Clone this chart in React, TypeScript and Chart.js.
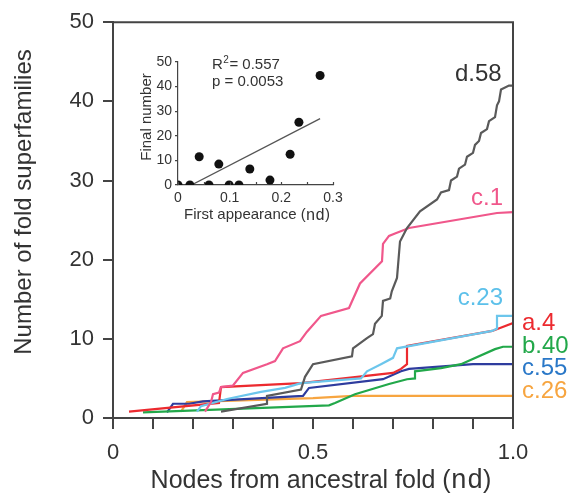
import React, { useEffect, useRef } from 'react';
import { Chart, registerables } from 'chart.js';

Chart.register(...registerables);

const FONT = "'Liberation Sans', Arial, Helvetica, sans-serif";
const MONO = "'Liberation Mono', 'Courier New', monospace";
const AXIS = '#444444';
const TEXT = '#333333';

// ---- main chart data ----
const seriesNames = ['d.58', 'c.1', 'c.23', 'a.4', 'b.40', 'c.55', 'c.26'];
const lineColors = ['#5a5a5a', '#f0578b', '#6cc6ec', '#ec2a2f', '#22a84a', '#2e3c9e', '#f7a540'];
const labelColors = ['#333333', '#f0578b', '#5cc0ea', '#ec2a2f', '#22a84a', '#2a78c8', '#f7a540'];

const d58X = [0.27, 0.385, 0.385, 0.47, 0.48, 0.5, 0.5975, 0.6, 0.635, 0.65, 0.655, 0.672, 0.675, 0.693, 0.697, 0.71, 0.7175, 0.735, 0.7675, 0.81, 0.82, 0.84, 0.845, 0.86, 0.865, 0.88, 0.885, 0.9, 0.905, 0.915, 0.92, 0.935, 0.94, 0.955, 0.96, 0.965, 0.97, 0.99, 1.0];
const d58Y = [0.8, 1.8, 2.8, 3.6, 5.2, 6.8, 7.8, 8.8, 10.1, 10.6, 11.9, 12.9, 14.8, 15.1, 16, 17.7, 22.3, 24, 26.1, 27.6, 28.5, 28.8, 30, 30.5, 31.5, 32, 33, 33.5, 34.5, 35, 36, 36.5, 37.5, 38, 39.5, 40, 41.5, 42, 42];

const c1X = [0.23, 0.245, 0.25, 0.265, 0.27, 0.3, 0.325, 0.385, 0.405, 0.425, 0.4675, 0.485, 0.52, 0.59, 0.6175, 0.6725, 0.675, 0.69, 0.705, 0.74, 0.96, 1.0];
const c1Y = [0.8, 2, 3, 3.2, 3.9, 4.1, 5.7, 6.8, 7.2, 8.8, 9.7, 10.9, 12.9, 13.9, 17, 19.8, 22, 23, 23.3, 24, 25.9, 26];

const c23X = [0.21, 0.22, 0.285, 0.37, 0.43, 0.47, 0.54, 0.62, 0.635, 0.67, 0.7, 0.71, 0.948, 0.96, 0.96, 1.0];
const c23Y = [0.8, 1.5, 2.4, 3.3, 3.8, 4.4, 4.7, 5.0, 5.9, 6.8, 7.6, 8.8, 11.0, 11.3, 12.9, 12.9];

const a4X = [0.04, 0.265, 0.27, 0.47, 0.7, 0.72, 0.735, 0.735, 0.948, 1.0];
const a4Y = [0.8, 1.9, 3.9, 4.4, 5.7, 6.2, 6.8, 9.1, 11.0, 12];

const b40X = [0.075, 0.54, 0.555, 0.605, 0.69, 0.735, 0.755, 0.755, 0.82, 0.87, 0.955, 0.975, 1.0];
const b40Y = [0.7, 1.6, 1.9, 3.0, 4.3, 4.9, 5.0, 5.9, 6.3, 6.8, 8.7, 9.0, 9.0];

const c55X = [0.135, 0.15, 0.19, 0.225, 0.475, 0.49, 0.675, 0.72, 0.74, 0.9, 1.0];
const c55Y = [0.7, 1.8, 1.8, 2.1, 2.8, 3.8, 4.9, 5.9, 6.2, 6.8, 6.8];

const c26X = [0.17, 0.185, 0.5, 0.6, 1.0];
const c26Y = [0.8, 2.0, 2.5, 2.8, 2.8];

const seriesX = [d58X, c1X, c23X, a4X, b40X, c55X, c26X];
const seriesY = [d58Y, c1Y, c23Y, a4Y, b40Y, c55Y, c26Y];

// label anchors (data units) for the series names
const labelAtX = [0.855, 0.975, 0.975, 1.0, 1.0, 1.0, 1.0];
const labelAtY = [43.4, 27.7, 15.1, 12, 9.1, 6.3, 3.4];

const xTickLabels = ['0', '0.5', '1.0'];
const xTickValues = [0, 0.5, 1.0];
const yTickStep = 10;

// ---- inset data ----
const insetX = [0, 0.023, 0.041, 0.06, 0.079, 0.099, 0.118, 0.139, 0.178, 0.217, 0.234, 0.275];
const insetY = [0, 0, 11.5, 0, 8.5, 0, 0, 6.5, 2, 12.5, 25.5, 44.5];
const fitX = [0.026, 0.275];
const fitY = [0, 27];
const insetXTicks = ['0', '0.1', '0.2', '0.3'];
const rSquared = '0.557';
const pValue = '0.0053';

const pts = (xs: number[], ys: number[]) => xs.map((x, i) => ({ x, y: ys[i] }));

const mainPlugin = {
  id: 'mainDecor',
  afterDraw(chart: any) {
    const { ctx, chartArea: a, scales } = chart;
    ctx.save();
    ctx.strokeStyle = AXIS;
    ctx.lineWidth = 2;
    ctx.beginPath();
    ctx.moveTo(a.left - 1, a.top);
    ctx.lineTo(a.right, a.top);
    ctx.lineTo(a.right, a.bottom);
    ctx.stroke();

    ctx.fillStyle = TEXT;
    // y title
    ctx.save();
    ctx.translate(24, 202);
    ctx.rotate(-Math.PI / 2);
    ctx.font = `24px ${FONT}`;
    ctx.textAlign = 'center';
    ctx.textBaseline = 'middle';
    ctx.fillText('Number of fold superfamilies', 0, 0);
    ctx.restore();

    // x title (mixed fonts)
    const p1 = 'Nodes from ancestral fold (';
    const p2 = 'nd';
    const p3 = ')';
    ctx.textBaseline = 'alphabetic';
    ctx.textAlign = 'left';
    ctx.font = `25px ${FONT}`;
    const w1 = ctx.measureText(p1).width;
    const w3 = ctx.measureText(p3).width;
    ctx.font = `27px ${MONO}`;
    const w2 = ctx.measureText(p2).width;
    const total = w1 + w2 + w3;
    const x0 = 321 - total / 2;
    const by = 488;
    ctx.font = `25px ${FONT}`;
    ctx.fillText(p1, x0, by);
    ctx.font = `27px ${MONO}`;
    ctx.fillText(p2, x0 + w1, by);
    ctx.font = `25px ${FONT}`;
    ctx.fillText(p3, x0 + w1 + w2, by);

    // series labels
    ctx.font = `24px ${FONT}`;
    ctx.textBaseline = 'middle';
    seriesNames.forEach((n, i) => {
      ctx.fillStyle = labelColors[i];
      const px = scales.x.getPixelForValue(labelAtX[i]);
      const py = scales.y.getPixelForValue(labelAtY[i]);
      if (labelAtX[i] >= 1.0) {
        ctx.textAlign = 'left';
        ctx.fillText(n, px + 9, py);
      } else {
        ctx.textAlign = i === 0 ? 'left' : 'right';
        ctx.fillText(n, px, py);
      }
    });
    ctx.restore();
  },
};

const insetPlugin = {
  id: 'insetDecor',
  afterDraw(chart: any) {
    const { ctx, chartArea: a, scales } = chart;
    ctx.save();
    ctx.strokeStyle = AXIS;
    ctx.lineWidth = 1.2;
    for (let v = 0; v <= 0.3001; v += 0.05) {
      const px = Math.round(scales.x.getPixelForValue(v)) + 0.5;
      ctx.beginPath();
      ctx.moveTo(px, a.bottom);
      ctx.lineTo(px, a.bottom - 3);
      ctx.stroke();
    }
    ctx.fillStyle = TEXT;
    // y title
    ctx.save();
    ctx.translate(27, 67);
    ctx.rotate(-Math.PI / 2);
    ctx.font = `15px ${FONT}`;
    ctx.textAlign = 'center';
    ctx.textBaseline = 'middle';
    ctx.fillText('Final number', 0, 0);
    ctx.restore();
    // x title
    const p1 = 'First appearance (';
    const p2 = 'nd';
    const p3 = ')';
    ctx.textBaseline = 'middle';
    ctx.textAlign = 'left';
    ctx.font = `15px ${FONT}`;
    const w1 = ctx.measureText(p1).width;
    const w3 = ctx.measureText(p3).width;
    ctx.font = `16px ${MONO}`;
    const w2 = ctx.measureText(p2).width;
    const x0 = 137 - (w1 + w2 + w3) / 2;
    const cy = 165;
    ctx.font = `15px ${FONT}`;
    ctx.fillText(p1, x0, cy);
    ctx.font = `16px ${MONO}`;
    ctx.fillText(p2, x0 + w1, cy + 1);
    ctx.font = `15px ${FONT}`;
    ctx.fillText(p3, x0 + w1 + w2, cy);

    // stats text
    ctx.font = `15px ${FONT}`;
    const rx = 92;
    ctx.fillText('R', rx, 15);
    const wr = ctx.measureText('R').width;
    ctx.font = `10px ${FONT}`;
    ctx.fillText('2', rx + wr + 0.5, 10);
    const w2s = ctx.measureText('2').width;
    ctx.font = `15px ${FONT}`;
    ctx.fillText('= ' + rSquared, rx + wr + w2s + 1, 15);
    ctx.fillText('p = ' + pValue, rx, 32);
    ctx.restore();
  },
};

export default function App() {
  const mainRef = useRef<HTMLCanvasElement>(null);
  const insetRef = useRef<HTMLCanvasElement>(null);

  useEffect(() => {
    const datasets = seriesNames.map((n, i) => ({
      label: n,
      data: pts(seriesX[i], seriesY[i]),
      borderColor: lineColors[i],
      backgroundColor: lineColors[i],
      borderWidth: 2.2,
      pointRadius: 0,
      tension: 0,
      fill: false,
    }));
    const main = new Chart(mainRef.current!, {
      type: 'line',
      data: { datasets },
      options: {
        animation: false,
        responsive: false,
        events: [],
        layout: { padding: { top: 21, right: 60, left: 0, bottom: 0 } },
        plugins: { legend: { display: false }, tooltip: { enabled: false } },
        scales: {
          x: {
            type: 'linear',
            min: 0,
            max: 1,
            afterFit: (s: any) => { s.height = 75; },
            ticks: {
              stepSize: 0.1,
              autoSkip: false,
              maxRotation: 0,
              padding: 11,
              color: TEXT,
              font: { family: FONT, size: 22 },
              callback: (v: any) => {
                const k = xTickValues.findIndex((t) => Math.abs(t - Number(v)) < 1e-6);
                return k >= 0 ? xTickLabels[k] : '';
              },
            },
            grid: { drawOnChartArea: false, tickLength: 11, color: AXIS, lineWidth: 2 },
            border: { color: AXIS, width: 2 },
          },
          y: {
            type: 'linear',
            min: 0,
            max: 50,
            afterFit: (s: any) => { s.width = 113; },
            ticks: {
              stepSize: yTickStep,
              padding: 9,
              color: TEXT,
              font: { family: FONT, size: 22 },
            },
            grid: { drawOnChartArea: false, tickLength: 10, color: AXIS, lineWidth: 2 },
            border: { color: AXIS, width: 2 },
          },
        },
      },
      plugins: [mainPlugin],
    });

    const inset = new Chart(insetRef.current!, {
      type: 'scatter',
      data: {
        datasets: [
          {
            data: pts(insetX, insetY),
            pointRadius: 4.5,
            backgroundColor: '#111111',
            borderColor: '#111111',
            borderWidth: 0,
          },
          {
            type: 'line',
            data: pts(fitX, fitY),
            showLine: true,
            pointRadius: 0,
            borderColor: '#555555',
            borderWidth: 1.3,
          } as any,
        ],
      },
      options: {
        animation: false,
        responsive: false,
        events: [],
        layout: { padding: { top: 12, right: 27, left: 0, bottom: 0 } },
        plugins: { legend: { display: false }, tooltip: { enabled: false } },
        scales: {
          x: {
            type: 'linear',
            min: 0,
            max: 0.3,
            afterFit: (s: any) => { s.height = 40; },
            ticks: {
              stepSize: 0.1,
              padding: 5,
              color: TEXT,
              font: { family: FONT, size: 14 },
              callback: (v: any) => {
                const k = Math.round(Number(v) * 10);
                return insetXTicks[k] ?? '';
              },
            },
            grid: { display: false, drawTicks: false },
            border: { color: AXIS, width: 1.2 },
          },
          y: {
            type: 'linear',
            min: 0,
            max: 50,
            afterFit: (s: any) => { s.width = 58; },
            ticks: {
              stepSize: 10,
              padding: 3,
              color: TEXT,
              font: { family: FONT, size: 14 },
            },
            grid: { drawOnChartArea: false, tickLength: 3, color: AXIS, lineWidth: 1.2 },
            border: { color: AXIS, width: 1.2 },
          },
        },
      },
      plugins: [insetPlugin],
    });

    return () => {
      main.destroy();
      inset.destroy();
    };
  }, []);

  return (
    <div style={{ position: 'fixed', left: 0, top: 0, width: 573, height: 493, background: '#ffffff' }}>
      <canvas ref={mainRef} width={573} height={493} style={{ position: 'absolute', left: 0, top: 0 }} />
      <canvas ref={insetRef} width={240} height={175} style={{ position: 'absolute', left: 120, top: 50 }} />
    </div>
  );
}
